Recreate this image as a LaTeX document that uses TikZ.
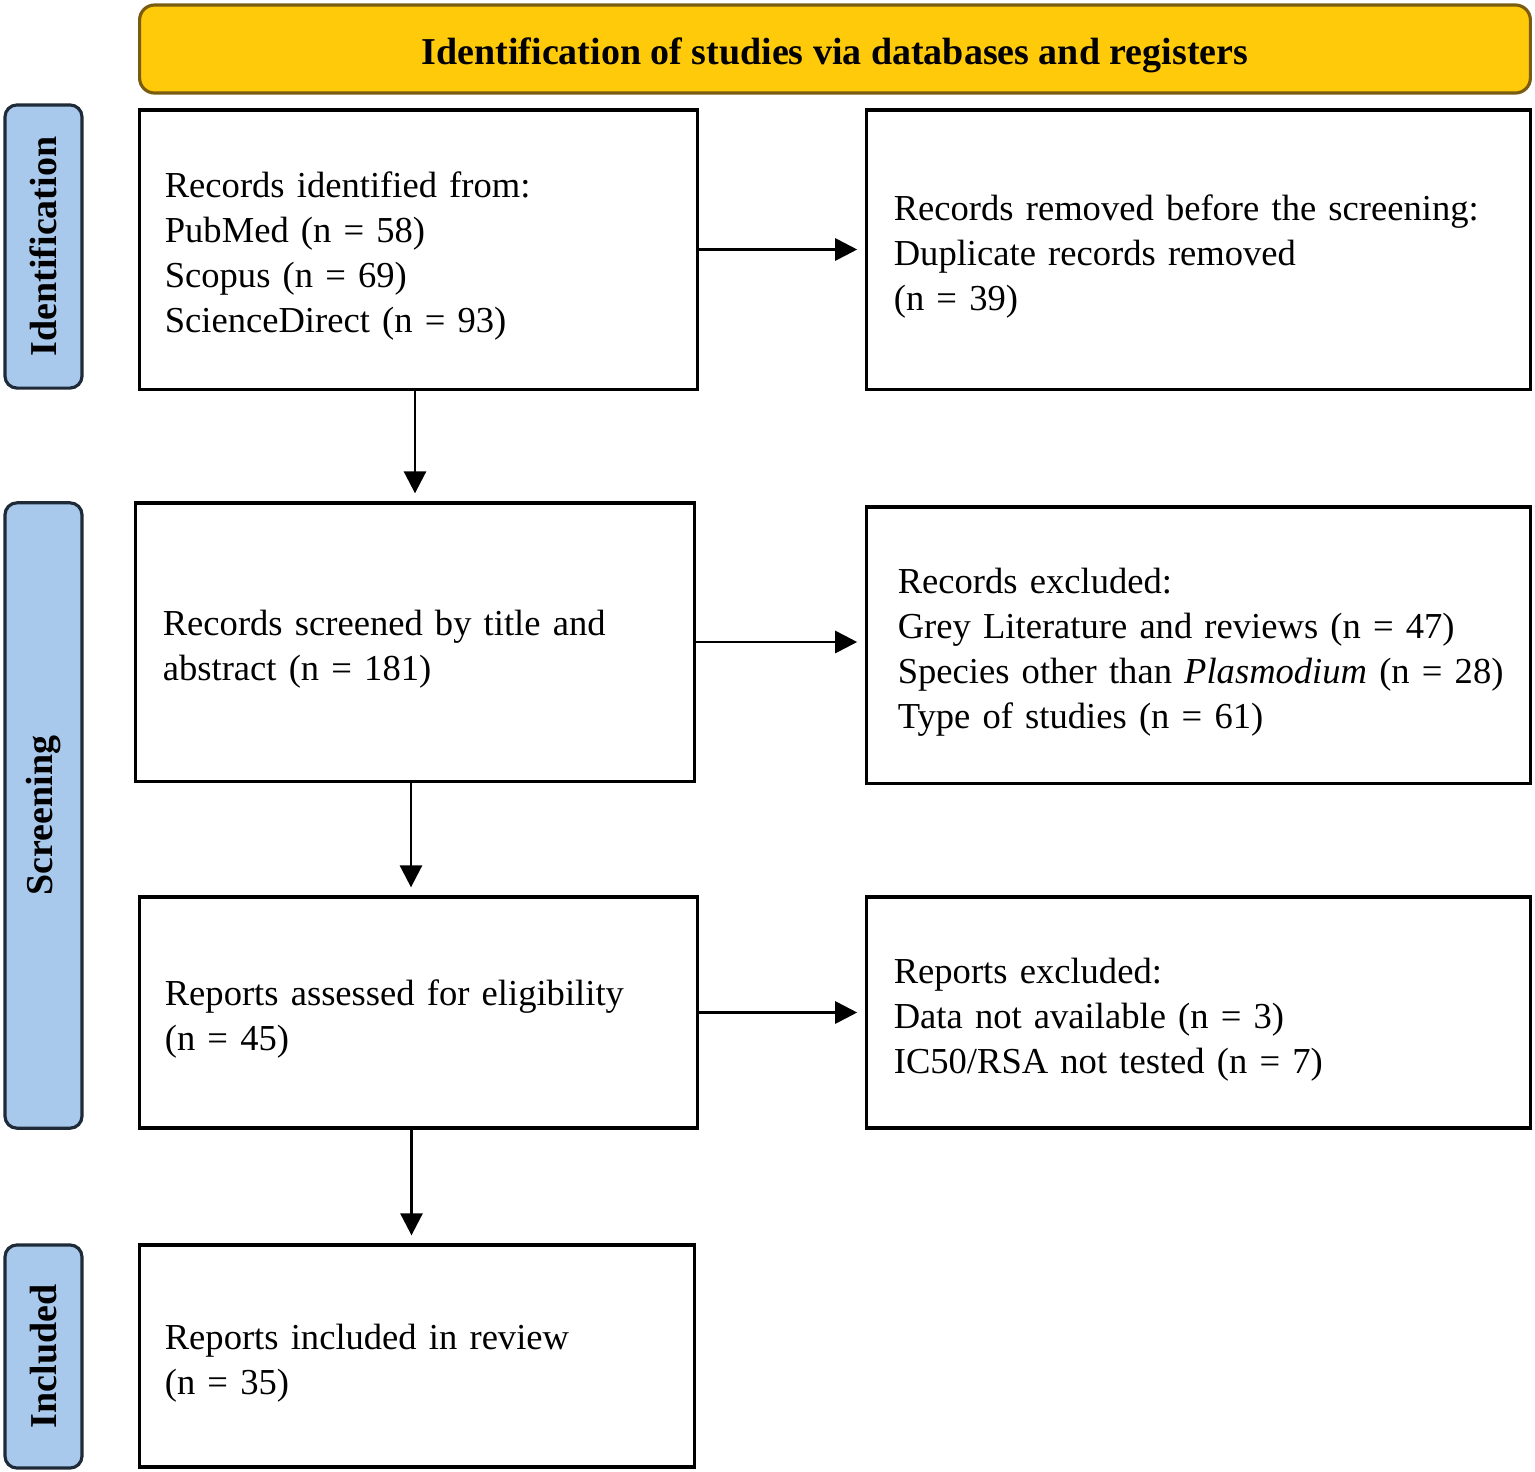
\documentclass[tikz,border=0pt]{standalone}
\usepackage{fontspec}
\setmainfont{Liberation Serif}
\usetikzlibrary{arrows.meta}
\definecolor{bannerfill}{HTML}{FFCA0A}
\definecolor{bannerdraw}{HTML}{7A5C10}
\definecolor{sidefill}{HTML}{A9C9EC}
\definecolor{sidedraw}{HTML}{1E2A38}
\newcommand{\topstrut}{\rule{0pt}{11.2pt}}
\tikzset{
  box/.style={draw=black, line width=0.9pt, fill=white, align=left, anchor=center,
    font=\fontsize{10.4}{12.8}\selectfont, inner ysep=2pt},
  banner/.style={draw=bannerdraw, fill=bannerfill, line width=0.9pt, rounded corners=0.15cm,
    minimum width=13.9cm, minimum height=0.88cm, text height=10.5pt, text depth=1.5pt,
    font=\bfseries\fontsize{10.8}{13}\selectfont},
  side/.style={draw=sidedraw, fill=sidefill, line width=0.9pt, rounded corners=0.12cm,
    rotate=90, minimum height=0.77cm, inner sep=0pt, font=\bfseries\fontsize{10.8}{13}\selectfont},
  arr/.style={line width=0.8pt, -{Triangle[length=0.22cm,width=0.22cm]}, shorten >=0.08cm},
}
\begin{document}
\begin{tikzpicture}[x=0.01cm,y=-0.01cm]
\useasboundingbox (0,0) rectangle (1535,1472);
\node[banner] (ban) at (835,49) {Identification of studies via databases and registers};
\node[side, minimum width=2.83cm] (sid) at (43.5,246.5) {Identification};
\node[side, minimum width=6.25cm] (sscr) at (43.5,815.5) {Screening};
\node[side, minimum width=2.23cm] (sinc) at (43.5,1356.5) {Included};

\node[box, text width=5.07cm, inner xsep=0.25cm, minimum height=2.79cm] (b1) at (418.5,249.5)
  {\topstrut Records identified from:\\PubMed (n = 58)\\Scopus (n = 69)\\ScienceDirect (n = 93)};
\node[box, text width=6.09cm, inner xsep=0.27cm, minimum height=2.79cm] (b2) at (1198.5,249.5)
  {\topstrut Records removed before the screening:\\Duplicate records removed\\(n = 39)};
\node[box, text width=5.04cm, inner xsep=0.27cm, minimum height=2.78cm] (b3) at (415,642)
  {\topstrut Records screened by title and\\abstract (n = 181)};
\node[box, text width=6.01cm, inner xsep=0.31cm, minimum height=2.76cm] (b4) at (1198.5,645)
  {\topstrut Records excluded:\\Grey Literature and reviews (n = 47)\\\mbox{Species other than \textit{Plasmodium} (n = 28)}\\Type of studies (n = 61)};
\node[box, text width=5.07cm, inner xsep=0.25cm, minimum height=2.31cm] (b5) at (418.5,1012.5)
  {\topstrut Reports assessed for eligibility\\(n = 45)};
\node[box, text width=6.09cm, inner xsep=0.27cm, minimum height=2.31cm] (b6) at (1198.5,1012.5)
  {\topstrut Reports excluded:\\Data not available (n = 3)\\IC50/RSA not tested (n = 7)};
\node[box, text width=5.04cm, inner xsep=0.25cm, minimum height=2.22cm] (b7) at (417,1356)
  {\topstrut Reports included in review\\(n = 35)};

\draw[arr] (b1.east) -- (b1.east -| b2.west);
\draw[arr] (b1.south -| b3.north) -- (b3.north);
\draw[arr] (b3.east) -- (b3.east -| b4.west);
\draw[arr] ([xshift=-0.04cm]b3.south) -- ([xshift=-0.04cm]b3.south |- b5.north);
\draw[arr] (b5.east) -- (b5.east -| b6.west);
\draw[arr] ([xshift=-0.07cm]b5.south) -- ([xshift=-0.07cm]b5.south |- b7.north);
\end{tikzpicture}
\end{document}
